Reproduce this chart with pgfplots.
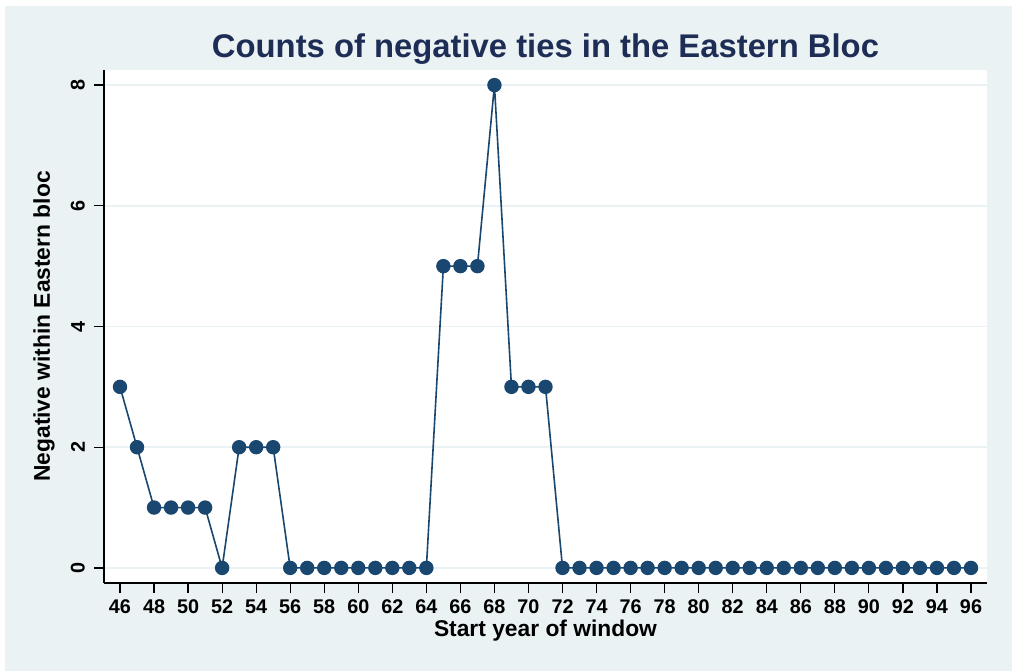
\documentclass[border=0pt]{standalone}
\usepackage{fontspec}
\setmainfont{Liberation Sans}
\usepackage{pgfplots}
\pgfplotsset{compat=1.18}
\definecolor{bgc}{RGB}{234,242,243}
\definecolor{navy}{RGB}{26,71,111}
\definecolor{ttl}{RGB}{30,45,85}
\begin{document}
\begin{tikzpicture}[x=1pt,y=1pt]
\fill[white] (0,0) rectangle (506,335.5);
\fill[bgc] (2.5,0) rectangle (506,332.5);
\begin{axis}[
    at={(52pt,44pt)}, anchor=south west,
    scale only axis,
    width=441.5pt, height=256.5pt,
    xmin=45.06, xmax=96.94,
    ymin=-0.25, ymax=8.25,
    axis background/.style={fill=white},
    axis x line*=bottom, axis y line*=left,
    axis line style={black, line width=0.6pt},
    tick align=outside,
    major tick length=5pt,
    tick style={black, line width=0.6pt},
    xtick={46,48,...,96},
    ytick={0,2,...,8},
    ymajorgrids,
    grid style={bgc, line width=0.9pt},
    /pgf/number format/assume math mode=true,
    ticklabel style={font=\bfseries\fontsize{9.9}{11}\selectfont},
    yticklabel style={rotate=90, anchor=south, yshift=1pt},
    title={Counts of negative ties in the Eastern Bloc},
    title style={at={(0.5,1)}, anchor=center, yshift=4.5pt,
        font=\bfseries\fontsize{16.4}{20}\selectfont, text=ttl},
    xlabel={Start year of window},
    xlabel style={at={(0.5,0)}, anchor=center, yshift=-23.75pt,
        font=\bfseries\fontsize{11.4}{12}\selectfont},
    ylabel={Negative within Eastern bloc},
    ylabel style={at={(0,0.5)}, anchor=center, yshift=30pt,
        font=\bfseries\fontsize{11.4}{12}\selectfont},
]
\addplot[navy, line width=0.8pt, mark=*, mark size=3.2pt,
    mark options={fill=navy, draw=navy}] coordinates {
(46,3) (47,2) (48,1) (49,1) (50,1) (51,1) (52,0) (53,2) (54,2) (55,2)
(56,0) (57,0) (58,0) (59,0) (60,0) (61,0) (62,0) (63,0) (64,0)
(65,5) (66,5) (67,5) (68,8) (69,3) (70,3) (71,3)
(72,0) (73,0) (74,0) (75,0) (76,0) (77,0) (78,0) (79,0) (80,0)
(81,0) (82,0) (83,0) (84,0) (85,0) (86,0) (87,0) (88,0) (89,0)
(90,0) (91,0) (92,0) (93,0) (94,0) (95,0) (96,0)
};
\end{axis}
\end{tikzpicture}
\end{document}
